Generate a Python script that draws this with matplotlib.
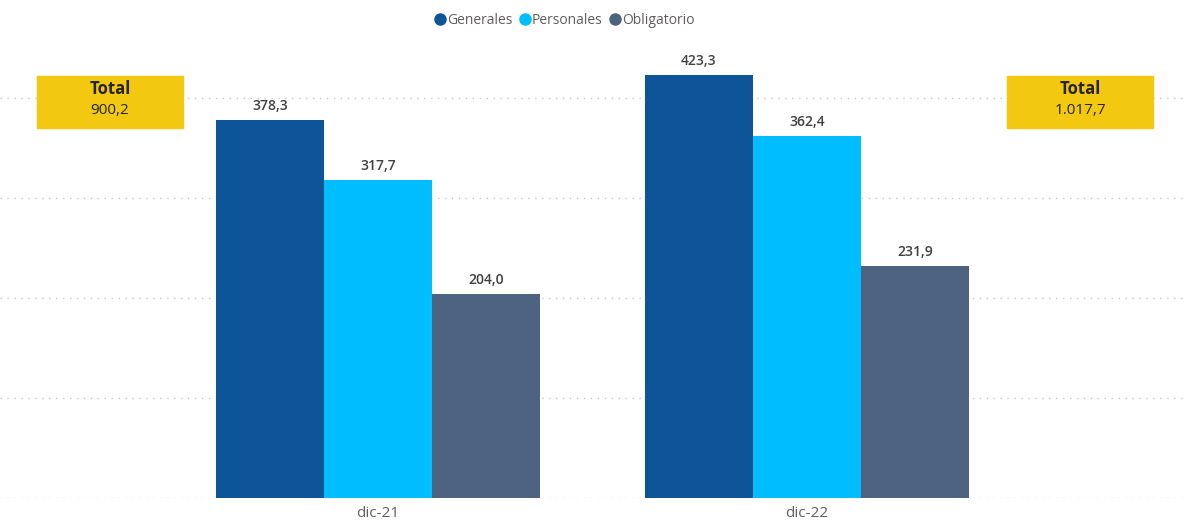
import numpy as np
from matplotlib import pyplot as plt
from matplotlib.lines import Line2D

categories = ["dic-21", "dic-22"]
series = ["Generales", "Personales", "Obligatorio"]
generales = [378.3, 423.3]
personales = [317.7, 362.4]
obligatorio = [204.0, 231.9]
totals = [900.2, 1017.7]

colors = ["#0D5499", "#00BDFF", "#4E6381"]


def fmt(v):
    s = "{:,.1f}".format(v)
    return s.replace(",", "X").replace(".", ",").replace("X", ".")


plt.rcParams["font.family"] = ["Open Sans", "DejaVu Sans"]

fig = plt.figure(figsize=(11.85, 5.2), dpi=100)
ax = fig.add_axes([0, 22 / 520, 1, 460 / 520])

x = np.arange(len(categories))
w = 0.252
for i, (vals, c) in enumerate(zip([generales, personales, obligatorio], colors)):
    bars = ax.bar(x + (i - 1) * w, vals, w, color=c, zorder=2)
    for b, v in zip(bars, vals):
        ax.annotate(fmt(v), (b.get_x() + b.get_width() / 2, v), xytext=(0, 5),
                    textcoords="offset points", ha="center", va="bottom",
                    fontsize=10, color="#404040", fontweight="semibold")

ax.set_xlim(-378 / 429, (1185 - 378) / 429)
ax.set_ylim(0, 460)
ax.set_yticks([0, 100, 200, 300, 400])
ax.yaxis.grid(True, color="#C8C8C8", linestyle=(0, (1, 4)), linewidth=1)
ax.set_axisbelow(True)
ax.tick_params(axis="y", left=False, labelleft=False)
ax.tick_params(axis="x", bottom=False, labelsize=11, labelcolor="#605E5C", pad=2)
ax.set_xticks(x)
ax.set_xticklabels(categories)
for s in ax.spines.values():
    s.set_visible(False)

# total boxes
for left, t in zip([37, 1007], totals):
    fig.patches.append(plt.Rectangle((left / 1185, 1 - 128 / 520), 146 / 1185, 52 / 520,
                                     transform=fig.transFigure, color="#F2C811", zorder=3))
    cx = (left + 73) / 1185
    fig.text(cx, 1 - 89 / 520, "Total", ha="center", va="center", fontsize=12,
             fontweight="bold", color="#252423", zorder=4)
    fig.text(cx, 1 - 111 / 520, fmt(t), ha="center", va="center", fontsize=11,
             color="#252423", zorder=4)

handles = [Line2D([], [], marker="o", linestyle="", color=c, markersize=8) for c in colors]
fig.legend(handles, series, loc="center", bbox_to_anchor=(564 / 1185, 1 - 20 / 520),
           ncol=3, frameon=False, fontsize=10, labelcolor="#605E5C",
           handletextpad=0.0, columnspacing=0.4, handlelength=1.0)

fig.savefig("out.png", dpi=100)
